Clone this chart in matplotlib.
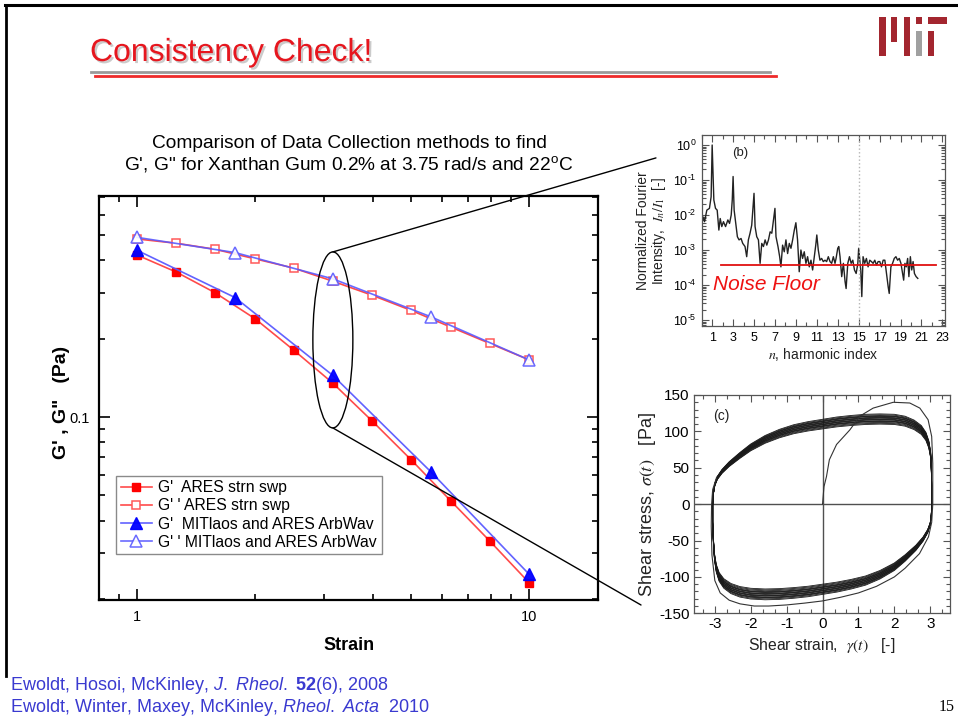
import numpy as np
import matplotlib
matplotlib.use("Agg")
import matplotlib.pyplot as plt
from matplotlib.lines import Line2D
from matplotlib.patches import Ellipse, Rectangle, ConnectionPatch
from matplotlib.transforms import ScaledTranslation
from matplotlib.ticker import (FixedLocator, NullFormatter, FuncFormatter,
                               LogLocator, MultipleLocator, AutoMinorLocator)
import matplotlib.patheffects as pe

plt.rcParams.update({
    "font.family": ["Liberation Sans", "DejaVu Sans"],
    "mathtext.fontset": "custom",
    "mathtext.rm": "Liberation Sans",
    "mathtext.it": "Liberation Sans:italic",
    "mathtext.bf": "Liberation Sans:bold",
    "axes.unicode_minus": False,
})

# ---------------- main chart data: G', G'' vs strain ----------------
strain_ares = [1.0, 1.26, 1.58, 2.0, 2.51, 3.16, 3.98, 5.01, 6.31, 7.94, 10.0]
gp_ares = [0.42, 0.361, 0.301, 0.239, 0.181, 0.135, 0.0966, 0.0684, 0.0477, 0.0334, 0.0231]
gpp_ares = [0.484, 0.466, 0.442, 0.406, 0.374, 0.333, 0.294, 0.257, 0.222, 0.192, 0.166]

strain_mit = [1.0, 1.78, 3.16, 5.62, 10.0]
gp_mit = [0.438, 0.288, 0.1446, 0.0616, 0.0249]
gpp_mit = [0.491, 0.429, 0.340, 0.243, 0.166]

legend_labels = ["G'  ARES strn swp", "G' ' ARES strn swp",
                 "G'  MITlaos and ARES ArbWav", "G' ' MITlaos and ARES ArbWav"]

# ---------------- inset (b): Fourier spectrum ----------------
harmonic_n = [0.1, 0.27, 0.49, 0.74, 0.9, 1.0, 1.16, 1.32, 1.48, 1.64, 1.77, 1.92, 2.08,
              2.28, 2.5, 2.66, 2.82, 2.92, 3.0, 3.1, 3.25, 3.41, 3.57, 3.76, 3.92, 4.14,
              4.3, 4.46, 4.62, 4.78, 5.0, 5.1, 5.26, 5.42, 5.58, 5.74, 5.9, 6.06, 6.22,
              6.38, 6.54, 6.7, 6.86, 7.0, 7.1, 7.29, 7.45, 7.57, 7.73, 7.89, 8.05, 8.21,
              8.37, 8.53, 8.69, 8.85, 9.0, 9.16, 9.32, 9.48, 9.64, 9.8, 9.96, 10.12,
              10.28, 10.44, 10.6, 10.76, 10.9, 11.0, 11.14, 11.3, 11.46, 11.62, 11.78,
              11.94, 12.1, 12.26, 12.42, 12.58, 12.74, 12.84, 13.0, 13.1, 13.22, 13.38,
              13.54, 13.7, 13.8, 13.96, 14.12, 14.28, 14.44, 14.6, 14.76, 14.92, 15.0,
              15.2, 15.3, 15.42, 15.58, 15.74, 15.9, 16.06, 16.22, 16.38, 16.54, 16.7,
              16.86, 17.02, 17.18, 17.34, 17.5, 17.66, 17.82, 17.92, 18.08, 18.24, 18.4,
              18.56, 18.72, 18.88, 19.04, 19.2, 19.3, 19.42, 19.55, 19.68, 19.8, 19.94,
              20.07, 20.2, 20.33, 20.49, 20.65]
log_intensity = [-2.05, -2.19, -1.86, -1.81, -1.48, 0.0, -1.57, -1.81, -1.86, -2.43, -2.10,
                 -2.33, -2.19, -2.33, -2.14, -2.24, -2.0, -1.57, -0.9, -1.86, -2.24, -2.62,
                 -2.71, -2.67, -2.81, -2.9, -3.19, -2.71, -2.52, -2.29, -1.38, -2.33, -2.62,
                 -2.71, -3.38, -2.81, -2.9, -2.71, -2.86, -2.71, -2.48, -2.52, -2.14, -1.81,
                 -2.62, -2.9, -3.19, -3.48, -2.86, -3.05, -2.71, -3.1, -2.81, -2.95, -2.71,
                 -2.43, -2.22, -2.71, -3.62, -3.0, -3.24, -3.05, -3.38, -3.19, -3.48, -3.29,
                 -3.57, -3.19, -2.86, -2.57, -3.0, -3.29, -3.24, -3.33, -3.29, -3.33, -3.19,
                 -3.33, -3.38, -3.19, -3.38, -3.24, -2.95, -2.9, -3.19, -3.76, -3.38, -3.9,
                 -4.1, -3.38, -3.19, -3.38, -3.29, -3.57, -3.67, -3.38, -2.95, -3.57, -4.33,
                 -3.19, -3.38, -3.24, -3.48, -3.29, -3.33, -3.38, -3.29, -3.43, -3.33, -3.33,
                 -3.48, -3.29, -3.29, -3.67, -4.05, -4.24, -3.48, -3.38, -3.24, -3.19, -3.29,
                 -3.24, -3.38, -3.67, -3.86, -3.38, -3.48, -3.24, -3.76, -3.19, -3.57, -3.33,
                 -3.67, -3.76, -3.81]
noise_floor = 3.7e-4
noise_span = [1.8, 22.4]
dotted_n = 15

# ---------------- inset (c): Lissajous curves ----------------
loop_gamma = [-3.06, -3.04, -3.0, -2.93, -2.8, -2.6, -2.3, -2.0, -1.6, -1.2, -0.8, -0.4,
              0.0, 0.4, 0.8, 1.2, 1.6, 2.0, 2.3, 2.55, 2.75, 2.88, 2.96, 3.01, 3.03, 3.04,
              3.04, 3.03, 3.0, 2.93, 2.8, 2.6, 2.3, 2.0, 1.6, 1.2, 0.8, 0.4, 0.0, -0.4,
              -0.8, -1.2, -1.6, -2.0, -2.3, -2.55, -2.75, -2.88, -2.96, -3.01, -3.04,
              -3.06, -3.06]
loop_sigma = [0, 15, 27, 36, 45, 55, 67, 78, 89, 97, 103, 107, 110, 113, 115, 116.5, 117,
              116.5, 114, 109, 102, 93, 82, 68, 50, 25, 0, -15, -27, -37, -48, -60, -74,
              -86, -97, -105, -110, -114, -117, -120, -122, -123.5, -124, -123, -120.5,
              -116, -109, -100, -88, -72, -50, -25, 0]
cycle_scale = [1.06, 1.05, 1.04, 1.035, 1.03, 1.02, 1.015, 1.01, 1.0, 0.995, 0.99, 0.98,
               0.975, 0.97, 0.96, 0.95, 0.94]
startup_gamma = [0.0, 0.04, 0.11, 0.19, 0.39, 0.76, 1.04, 1.41, 1.97, 2.43, 2.71, 2.94,
                 3.04, 3.07, 3.07, 3.04, 2.95, 2.7, 2.3, 2.0, 1.5, 1.0, 0.5, 0.0, -0.5,
                 -1.0, -1.5, -1.9, -2.3, -2.6, -2.85, -3.0, -3.08, -3.1, -3.09, -3.06, -2.95]
startup_sigma = [0, 24, 38, 61, 82, 102, 121, 132, 140, 139, 132, 116, 93, 56, 0, -25,
                 -45, -68, -88, -100, -113, -122, -128, -133, -136, -138.5, -140, -140,
                 -137, -132, -122, -105, -70, -30, 0, 20, 37]

W, H = 958, 724
fig = plt.figure(figsize=(W / 100, H / 100), dpi=100)
fig.patch.set_facecolor("white")


def fx(x):
    return x / W


def fy(y):
    return 1 - y / H


# ---------------- slide frame, title, logo ----------------
fig.add_artist(Line2D([fx(5), 1.0], [fy(5), fy(5)], color="black", lw=2.2))
fig.add_artist(Line2D([fx(5.5), fx(5.5)], [fy(5), fy(676)], color="black", lw=2.0))

fig.text(fx(90), fy(61), "Consistency Check!", color="#e6161e", fontsize=23,
         va="baseline", ha="left",
         path_effects=[pe.SimplePatchShadow(offset=(1.5, -1.5), shadow_rgbFace="0.55",
                                            alpha=0.45), pe.Normal()])
fig.add_artist(Line2D([fx(91), fx(770)], [fy(71.5), fy(71.5)], color="#9a9a9a", lw=2.0))
fig.add_artist(Line2D([fx(95), fx(776)], [fy(76.3), fy(76.3)], color="#ee2a2a", lw=2.0))

mit_red, mit_gray = "#a3262f", "#a0a0a0"
logo_bars = [(879, 17.3, 6.7, 38.7, mit_red), (891.3, 17.3, 6.0, 25.0, mit_red),
             (903.7, 17.3, 6.6, 38.7, mit_red), (915.7, 17.3, 6.6, 6.7, mit_red),
             (915.7, 30.7, 6.6, 25.3, mit_gray), (928.3, 17.3, 18.4, 6.7, mit_red),
             (928.3, 30.7, 5.7, 25.3, mit_red)]
for x0, y0, w, h, c in logo_bars:
    fig.add_artist(Rectangle((fx(x0), fy(y0 + h)), w / W, h / H,
                             transform=fig.transFigure, color=c, lw=0))

# ---------------- main chart ----------------
ax = fig.add_axes([fx(99), fy(600), fx(598) - fx(99), fy(196) - fy(600)])
red_line, blue_line = "#ff4a4a", "#5a5aff"
ax.plot(strain_ares, gp_ares, color=red_line, lw=1.2, marker="s", ms=5.5,
        mfc="#ff0000", mec="#ff0000", label=legend_labels[0], zorder=3)
ax.plot(strain_ares, gpp_ares, color=red_line, lw=1.2, marker="s", ms=6,
        mfc="white", mec="#ff5a5a", mew=1.1, label=legend_labels[1], zorder=3)
ax.plot(strain_mit, gp_mit, color=blue_line, lw=1.2, marker="^", ms=8,
        mfc="#0000ff", mec="#0000ff", label=legend_labels[2], zorder=4, alpha=0.95)
ax.plot(strain_mit, gpp_mit, color=blue_line, lw=1.2, marker="^", ms=8.5,
        mfc="white", mec="#5a5aff", mew=1.1, label=legend_labels[3], zorder=4, alpha=0.9)

ax.set_xscale("log")
ax.set_yscale("log")
ax.set_xlim(0.8, 15)
ax.set_ylim(0.0198, 0.708)
ax.xaxis.set_major_locator(FixedLocator([1, 10]))
ax.xaxis.set_major_formatter(FuncFormatter(lambda v, p: f"{v:g}"))
ax.xaxis.set_minor_locator(LogLocator(base=10, subs=np.arange(2, 10), numticks=20))
ax.xaxis.set_minor_formatter(NullFormatter())
ax.yaxis.set_major_locator(FixedLocator([0.1, 1.0]))
ax.yaxis.set_major_formatter(FuncFormatter(lambda v, p: f"{v:g}"))
ax.yaxis.set_minor_locator(LogLocator(base=10, subs=np.arange(2, 10), numticks=20))
ax.yaxis.set_minor_formatter(NullFormatter())
ax.tick_params(which="both", direction="in", top=True, right=True, width=1.2,
               labelsize=10.5, color="black")
ax.tick_params(which="major", length=8, pad=7)
ax.tick_params(which="minor", length=4.5)
for s in ax.spines.values():
    s.set_linewidth(1.6)

leg = ax.legend(loc="upper left", bbox_to_anchor=(0.034, 0.308), borderaxespad=0,
                fontsize=11.3, frameon=True, fancybox=False, framealpha=1,
                edgecolor="#8a8a8a", numpoints=1, handlelength=2.0,
                handletextpad=0.4, labelspacing=0.2, borderpad=0.3)
leg.get_frame().set_linewidth(1.0)

fig.text(fx(349), fy(143), "Comparison of Data Collection methods to find",
         ha="center", va="center", fontsize=13.8)
fig.text(fx(349), fy(164), "G', G\" for Xanthan Gum 0.2% at 3.75 rad/s and 22$^\\mathrm{o}$C",
         ha="center", va="center", fontsize=13.8)
fig.text(fx(61), fy(402), "G' , G\"   (Pa)", rotation=90, ha="center", va="center",
         fontsize=14, fontweight="bold")
fig.text(fx(349), fy(645), "Strain", ha="center", va="center", fontsize=13,
         fontweight="bold")

# zoom ellipse around the strain ~3 points, with lines to the insets
ell_trans = fig.dpi_scale_trans + ScaledTranslation(3.16, 0.198, ax.transData)
ax.add_patch(Ellipse((0, 0), 0.40, 1.76, transform=ell_trans, fill=False,
                     ec="black", lw=1.0, zorder=5, clip_on=False))

# ---------------- inset (b) ----------------
axb = fig.add_axes([fx(701.7), fy(326), fx(945) - fx(701.7), fy(135) - fy(326)])
axb.plot(harmonic_n, 10.0 ** np.array(log_intensity), color="#222222", lw=1.0)
axb.axvline(dotted_n, color="#b5b5b5", lw=1.0, ls=":")
axb.plot(noise_span, [noise_floor, noise_floor], color="#e01010", lw=1.3)
axb.set_yscale("log")
axb.set_xlim(0, 23.25)
axb.set_ylim(10 ** -5.17, 10 ** 0.286)
axb.xaxis.set_major_locator(MultipleLocator(2, offset=1))
axb.xaxis.set_minor_locator(MultipleLocator(1))
axb.yaxis.set_major_locator(FixedLocator([1e-5, 1e-4, 1e-3, 1e-2, 1e-1, 1e0]))
axb.yaxis.set_minor_locator(LogLocator(base=10, subs=np.arange(2, 10), numticks=30))
axb.yaxis.set_minor_formatter(NullFormatter())


def decade_label(v, pos):
    e = int(round(np.log10(v)))
    sign = r"\text{-}" if e < 0 else ""
    return r"$\mathdefault{10^{%s%d}}$" % (sign, abs(e))


axb.yaxis.set_major_formatter(FuncFormatter(decade_label))
axb.tick_params(which="both", direction="in", top=True, right=True, width=0.8,
                color="#555555", labelsize=9, pad=4)
axb.tick_params(which="major", length=5)
axb.tick_params(which="minor", length=3)
for s in axb.spines.values():
    s.set_linewidth(0.9)
    s.set_color("#555555")
axb.text(0.16, 0.905, "(b)", transform=axb.transAxes, fontsize=9.5, ha="center",
         va="center", color="#222222")
axb.text(0.045, 0.215, "Noise Floor", transform=axb.transAxes, fontsize=15,
         style="italic", color="#ee1111", ha="left", va="center")
axb.set_ylabel("Normalized Fourier\nIntensity,  $I_n/I_1$  [-]", fontsize=10,
               color="#222222", math_fontfamily="stix", labelpad=3, linespacing=1.05)
axb.set_xlabel("$n$, harmonic index", fontsize=10, color="#222222",
               math_fontfamily="stix", labelpad=2)

# ---------------- inset (c) ----------------
axc = fig.add_axes([fx(694), fy(613.3), fx(950) - fx(694), fy(395) - fy(613.3)])
axc.axhline(0, color="#505050", lw=1.0)
axc.axvline(0, color="#505050", lw=1.0)
loop_sig = np.array(loop_sigma)
for sc in cycle_scale:
    axc.plot(loop_gamma, loop_sig * sc, color="#1a1a1a", lw=0.6)
axc.plot(startup_gamma, startup_sigma, color="#333333", lw=0.8)
axc.set_xlim(-3.58, 3.55)
axc.set_ylim(-150, 150)
axc.xaxis.set_major_locator(MultipleLocator(1))
axc.xaxis.set_minor_locator(AutoMinorLocator(3))
axc.yaxis.set_major_locator(MultipleLocator(50))
axc.yaxis.set_minor_locator(MultipleLocator(10))
axc.tick_params(which="both", direction="in", top=True, right=True, width=0.8,
                color="#555555", labelsize=11, pad=3)
axc.tick_params(which="major", length=5)
axc.tick_params(which="minor", length=3)
for s in axc.spines.values():
    s.set_linewidth(0.9)
    s.set_color("#555555")
axc.text(0.105, 0.905, "(c)", transform=axc.transAxes, fontsize=10, ha="center",
         va="center", color="#222222")
axc.set_ylabel(r"Shear stress, $\sigma(t)$   [Pa]", fontsize=13, color="#222222",
               math_fontfamily="stix", labelpad=1)
axc.set_xlabel(r"Shear strain,  $\gamma(t)$   [-]", fontsize=11.3, color="#222222",
               math_fontfamily="stix", labelpad=3)

# connector lines from the ellipse to the insets
con_top = ConnectionPatch(xyA=(0, 0.88), coordsA=ell_trans, xyB=(-0.188, 0.88),
                          coordsB=axb.transAxes, color="black", lw=1.0)
con_bot = ConnectionPatch(xyA=(0, -0.88), coordsA=ell_trans, xyB=(-0.207, 0.038),
                          coordsB=axc.transAxes, color="black", lw=1.0)
fig.add_artist(con_top)
fig.add_artist(con_bot)

# ---------------- references and page number ----------------
ref_color = "#3a3ad0"
fig.text(fx(10), fy(685), r"Ewoldt, Hosoi, McKinley, $\mathit{J.\ Rheol.}$ $\mathbf{52}$(6), 2008",
         color=ref_color, fontsize=13, ha="left", va="center")
fig.text(fx(10), fy(707), r"Ewoldt, Winter, Maxey, McKinley, $\mathit{Rheol.\ Acta}$  2010",
         color=ref_color, fontsize=13, ha="left", va="center")
fig.text(fx(939), fy(707), "15", fontfamily="Liberation Serif", fontsize=11.5,
         ha="left", va="center", color="black")

fig.savefig("out.png", dpi=100, facecolor="white")
